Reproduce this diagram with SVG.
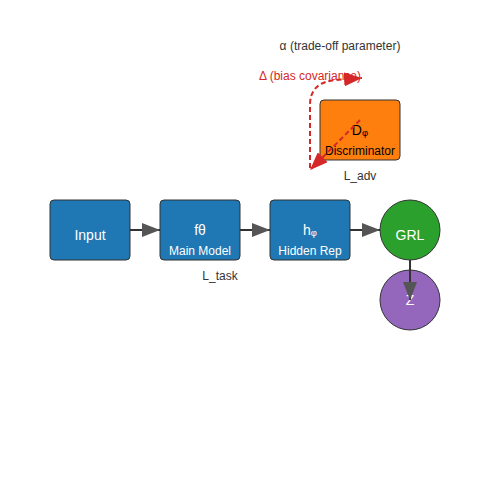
<svg xmlns="http://www.w3.org/2000/svg" width="500" height="500" viewBox="0 0 500 500">
<style>
.box{stroke:#333;stroke-width:1}
.t{font-family:"Liberation Sans",Arial,sans-serif;text-anchor:middle}
.w{fill:#fff}
.lbl{fill:#333;font-size:12px}
.edge{stroke:#333;stroke-width:2;fill:none}
.red{stroke:#d62728;stroke-width:2;fill:none;stroke-dasharray:5,3}
</style>
<defs>
<marker id="ahg" viewBox="0 0 10 10" refX="10" refY="5" markerWidth="18" markerHeight="14" markerUnits="userSpaceOnUse" orient="auto" preserveAspectRatio="none">
<path d="M0,0L10,5L0,10z" fill="#555"/>
</marker>
<marker id="ahr" viewBox="0 0 10 10" refX="10" refY="5" markerWidth="18" markerHeight="14" markerUnits="userSpaceOnUse" orient="auto" preserveAspectRatio="none">
<path d="M0,0L10,5L0,10z" fill="#d62728"/>
</marker>
</defs>
<rect width="500" height="500" fill="#fff"/>
<g id="connectors">
<line class="edge" x1="130" y1="230" x2="160" y2="230" marker-end="url(#ahg)"/>
<line class="edge" x1="240" y1="230" x2="270" y2="230" marker-end="url(#ahg)"/>
<line class="edge" x1="350" y1="230" x2="380" y2="230" marker-end="url(#ahg)"/>
</g>
<g id="input"><rect class="box" x="50" y="200" width="80" height="60" rx="4" fill="#1f77b4"/><text class="t w" x="90" y="240" font-size="14">Input</text></g>
<g id="main"><rect class="box" x="160" y="200" width="80" height="60" rx="4" fill="#1f77b4"/><text class="t w" x="200" y="235" font-size="14">fθ</text><text class="t w" x="200" y="255" font-size="12">Main Model</text></g>
<g id="hidden"><rect class="box" x="270" y="200" width="80" height="60" rx="4" fill="#1f77b4"/><text class="t w" x="310" y="235" font-size="14">hᵩ</text><text class="t w" x="310" y="255" font-size="12">Hidden Rep</text></g>
<g id="grl"><circle class="box" cx="410" cy="230" r="30" fill="#2ca02c"/><text class="t w" x="410" y="240" font-size="14">GRL</text></g>
<g id="z"><circle class="box" cx="410" cy="300" r="30" fill="#9467bd"/><text class="t w" x="410" y="305" font-size="14">Z</text></g>
<g id="edge-gz"><line class="edge" x1="410" y1="260" x2="410" y2="300" marker-end="url(#ahg)"/></g>
<g id="disc"><rect class="box" x="320" y="100" width="80" height="60" rx="4" fill="#ff7f0e"/><text class="t" x="360" y="135" font-size="14" fill="#000">Dᵩ</text><text class="t" x="360" y="155" font-size="12" fill="#000">Discriminator</text></g>
<g id="labels">
<text class="t lbl" x="360" y="180">L_adv</text>
<text class="t lbl" x="220" y="280">L_task</text>
<text class="t lbl" x="340" y="50">α (trade-off parameter)</text>
<text class="t" x="310" y="80" font-size="12" fill="#d62728">Δ (bias covariance)</text>
</g>
<g id="red-connectors">
<line class="red" x1="360" y1="120" x2="310" y2="170" marker-end="url(#ahr)"/>
<path class="red" d="M310,168 L310,105 Q310,82 336,80 L362,78" marker-end="url(#ahr)"/>
</g>
</svg>
